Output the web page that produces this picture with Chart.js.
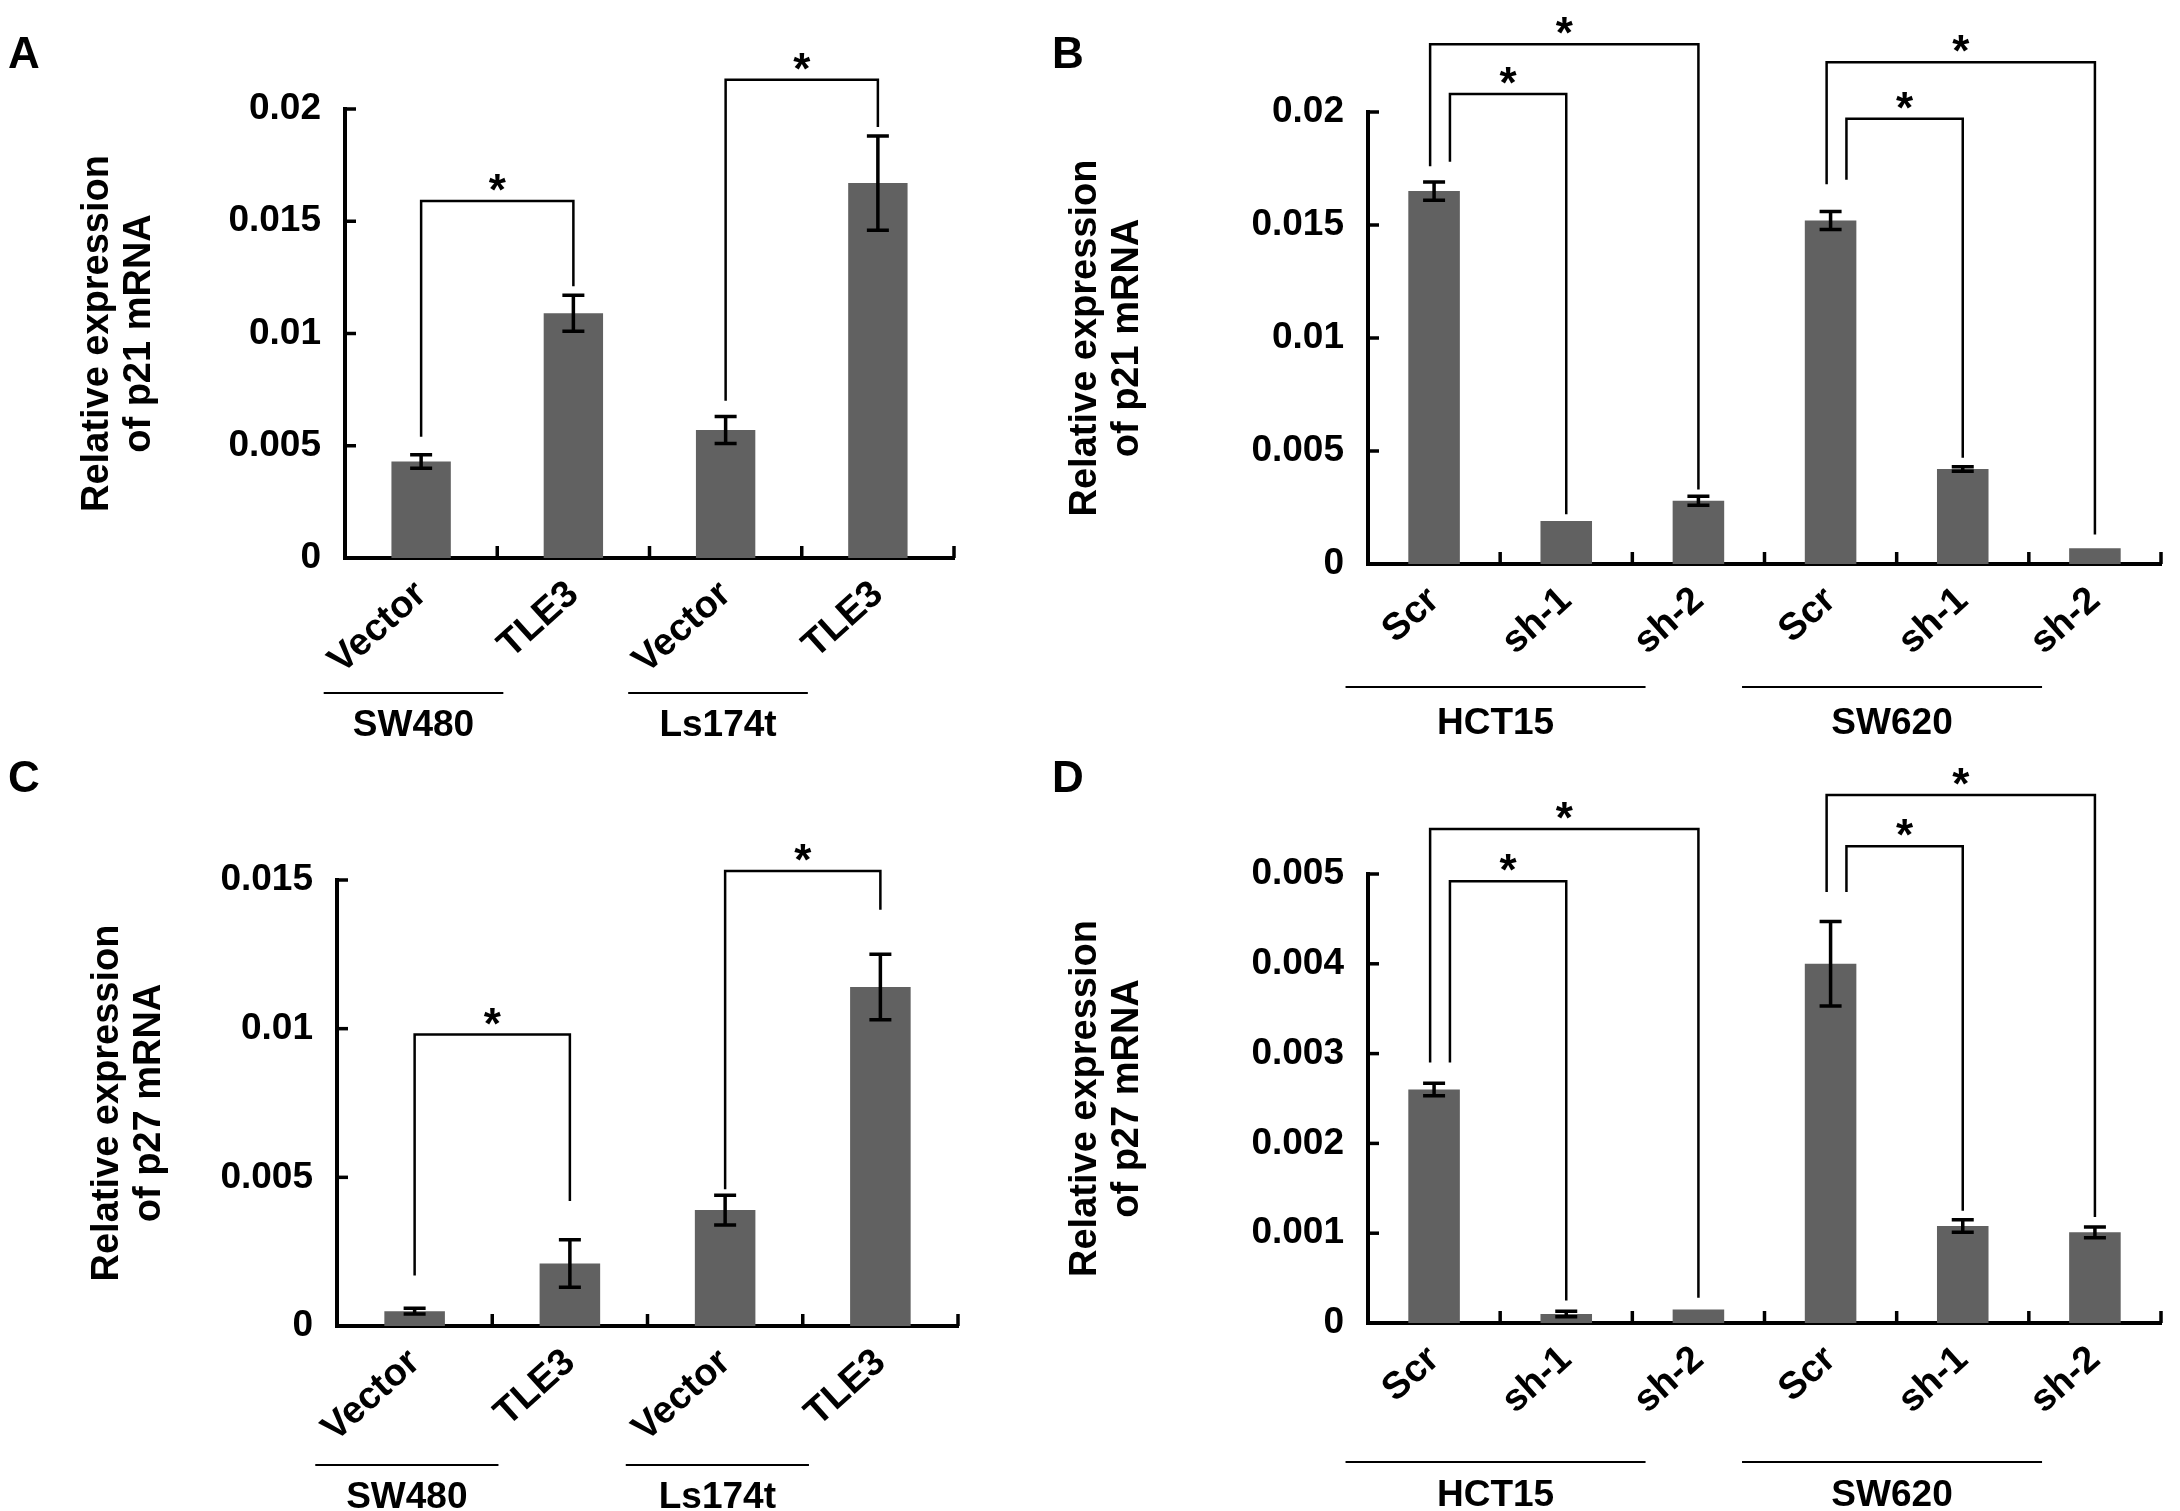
<!DOCTYPE html>
<html><head><meta charset="utf-8">
<script src="https://cdn.jsdelivr.net/npm/chart.js@4"></script>
<style>
body{margin:0;background:#fff;width:2180px;height:1511px;overflow:hidden;position:relative;font-family:"Liberation Sans",Arial,sans-serif}
.p{position:absolute}
.lt{position:absolute;font:bold 44px "Liberation Sans",Arial,sans-serif}
</style></head><body>
<div class="p" style="left:0;top:0;width:1040px;height:755px"><canvas id="cA"></canvas></div>
<div class="p" style="left:1040px;top:0;width:1140px;height:755px"><canvas id="cB"></canvas></div>
<div class="p" style="left:0;top:755px;width:1040px;height:756px"><canvas id="cC"></canvas></div>
<div class="p" style="left:1040px;top:755px;width:1140px;height:756px"><canvas id="cD"></canvas></div>
<div class="lt" style="left:8px;top:28px">A</div>
<div class="lt" style="left:1052px;top:28px">B</div>
<div class="lt" style="left:8px;top:752px">C</div>
<div class="lt" style="left:1052px;top:752px">D</div>
<script>
// ---- data ----
const catsA = ["Vector","TLE3","Vector","TLE3"];
const valsA = [0.0043,0.0109,0.0057,0.0167];
const errA  = [0.0003,0.0008,0.0006,0.0021];
const catsB = ["Scr","sh-1","sh-2","Scr","sh-1","sh-2"];
const valsB = [0.0165,0.0019,0.0028,0.0152,0.0042,0.0007];
const errB  = [0.0004,0,0.0002,0.0004,0.0001,0];
const catsC = ["Vector","TLE3","Vector","TLE3"];
const valsC = [0.0005,0.0021,0.0039,0.0114];
const errC  = [0.0001,0.0008,0.0005,0.0011];
const catsD = ["Scr","sh-1","sh-2","Scr","sh-1","sh-2"];
const valsD = [0.0026,0.0001,0.00015,0.0040,0.00108,0.00101];
const errD  = [0.00007,0.00003,0,0.00047,0.00007,0.00006];
// brackets: [from, to, topValue, leftEnd, rightEnd, leftOffsetFrac]
const brA = [[0,1,0.0159,0.0054,0.0121,0],[2,3,0.0213,0.0070,0.0192,0]];
const brB = [[0,1,0.0208,0.0178,0.0022,0.12],[0,2,0.0230,0.0176,0.0033,-0.03],[3,4,0.0197,0.0170,0.0047,0.12],[3,5,0.0222,0.0168,0.0013,-0.03]];
const brC = [[0,1,0.0098,0.0017,0.0042,0],[2,3,0.0153,0.0046,0.0140,0]];
const brD = [[0,1,0.00492,0.0029,0.00025,0.12],[0,2,0.0055,0.0029,0.00028,-0.03],[3,4,0.00531,0.0048,0.00125,0.12],[3,5,0.00588,0.0048,0.00118,-0.03]];
const groupsA = [["SW480",0,1],["Ls174t",2,3]];
const groupsB = [["HCT15",0,2],["SW620",3,5]];

const F = '"Liberation Sans", Arial, sans-serif';
const P = {
  A:{cats:catsA,vals:valsA,err:errA,br:brA,gr:groupsA,max:0.02,step:0.005,title:"p21",pad:{left:76,top:109,right:86,bottom:0},xh:197,gl:[135,168],g:[-0.64,-0.38]},
  B:{cats:catsB,vals:valsB,err:errB,br:brB,gr:groupsB,max:0.02,step:0.005,title:"p21",pad:{left:24,top:112,right:19,bottom:0},xh:191,gl:[123,160],g:[-0.67,-0.35]},
  C:{cats:catsC,vals:valsC,err:errC,br:brC,gr:groupsA,max:0.015,step:0.005,title:"p27",pad:{left:86,top:125,right:82,bottom:0},xh:185,gl:[139,172],g:[-0.64,-0.38]},
  D:{cats:catsD,vals:valsD,err:errD,br:brD,gr:groupsB,max:0.005,step:0.001,title:"p27",pad:{left:24,top:119,right:19,bottom:0},xh:188,gl:[139,173],g:[-0.67,-0.35]}
};
const axisLeft = {A:345,B:328,C:337,D:328};

function mk(id,cfg){
  const extra = {
    id:'extra',
    afterDatasetsDraw(ch){
      const c=ch.ctx, x=ch.scales.x, y=ch.scales.y, a=ch.chartArea;
      c.save(); c.strokeStyle='#000'; c.fillStyle='#000'; c.lineWidth=3.5;
      for(let v=0; v<=cfg.max+1e-9; v+=cfg.step){
        const yy=y.getPixelForValue(v); c.beginPath(); c.moveTo(a.left,yy); c.lineTo(a.left+11,yy); c.stroke();
      }
      const cw = x.getPixelForValue(1)-x.getPixelForValue(0);
      for(let i=1;i<=cfg.cats.length;i++){
        const xx=x.getPixelForValue(i-0.5); c.beginPath(); c.moveTo(xx,a.bottom); c.lineTo(xx,a.bottom-12); c.stroke();
      }
      c.lineWidth=3.5;
      cfg.vals.forEach((v,i)=>{
        const e=cfg.err[i]; if(!e) return;
        const xx=x.getPixelForValue(i), y1=y.getPixelForValue(v+e), y2=y.getPixelForValue(v-e);
        c.beginPath(); c.moveTo(xx,y1); c.lineTo(xx,y2);
        c.moveTo(xx-11,y1); c.lineTo(xx+11,y1); c.moveTo(xx-11,y2); c.lineTo(xx+11,y2); c.stroke();
      });
      c.lineWidth=2.5; c.font='bold 44px '+F; c.textAlign='center'; c.textBaseline='alphabetic';
      cfg.br.forEach(b=>{
        const x1=x.getPixelForValue(b[0])+b[5]*cw, x2=x.getPixelForValue(b[1]);
        const yt=y.getPixelForValue(b[2]);
        c.beginPath(); c.moveTo(x1,y.getPixelForValue(b[3])); c.lineTo(x1,yt); c.lineTo(x2,yt); c.lineTo(x2,y.getPixelForValue(b[4])); c.stroke();
        c.fillText('*',(x1+x2)/2,yt+4);
      });
      c.lineWidth=2; c.font='bold 37px '+F; c.textBaseline='middle';
      cfg.gr.forEach(g=>{
        const x1=x.getPixelForValue(g[1])+cfg.g[0]*cw, x2=x.getPixelForValue(g[2])+cfg.g[1]*cw*2+cw*0.3;
        const yl=a.bottom+cfg.gl[0];
        c.beginPath(); c.moveTo(x1,yl); c.lineTo(x2,yl); c.stroke();
        c.fillText(g[0],(x1+x2)/2,a.bottom+cfg.gl[1]);
      });
      c.restore();
    }
  };
  return new Chart(document.getElementById(id),{
    type:'bar',
    data:{labels:cfg.cats,datasets:[{data:cfg.vals,backgroundColor:'#616161',barPercentage:0.39,categoryPercentage:1}]},
    options:{
      responsive:true,maintainAspectRatio:false,animation:false,
      layout:{padding:cfg.pad},
      plugins:{legend:{display:false},tooltip:{enabled:false}},
      scales:{
        x:{grid:{display:false},border:{color:'#000',width:4},
           ticks:{color:'#000',font:{family:F,weight:'bold',size:38},minRotation:42,maxRotation:42,padding:6},
           afterFit(s){s.height=cfg.xh;}},
        y:{min:0,max:cfg.max,grid:{display:false},border:{color:'#000',width:4},
           ticks:{stepSize:cfg.step,color:'#000',font:{family:F,weight:'bold',size:37},padding:16,
             callback:v=>String(Number(v.toFixed(4)))},
           title:{display:true,text:["Relative expression","of "+cfg.title+" mRNA"],color:'#000',font:{family:F,weight:'bold',size:38,lineHeight:1.12},padding:0},
           afterFit(s){s.width=axisLeft[id.slice(1)]-cfg.pad.left;}}
      }
    },
    plugins:[extra]
  });
}
mk('cA',P.A); mk('cB',P.B); mk('cC',P.C); mk('cD',P.D);
</script></body></html>
